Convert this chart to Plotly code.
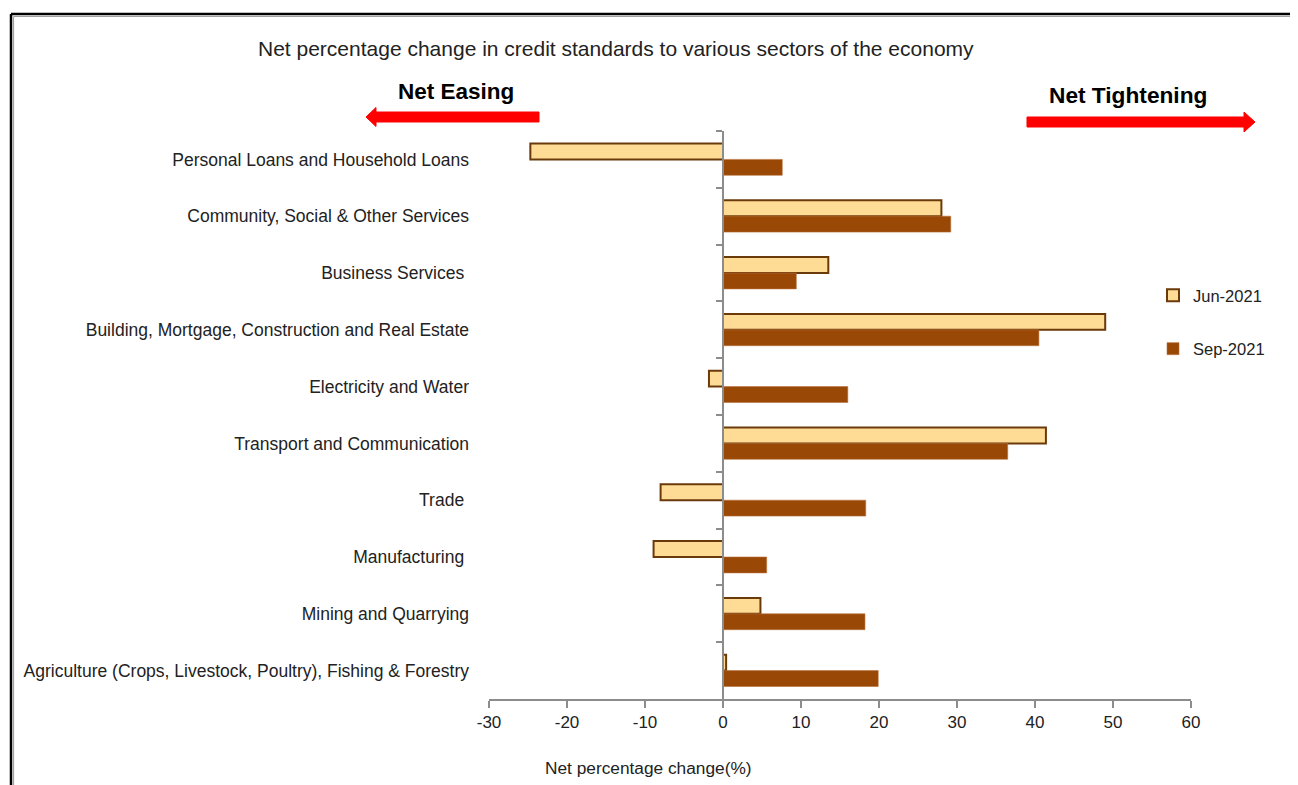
import plotly.graph_objects as go

categories = [
    "Personal Loans and Household Loans",
    "Community, Social & Other Services",
    "Business Services ",
    "Building, Mortgage, Construction and Real Estate",
    "Electricity and Water",
    "Transport and Communication",
    "Trade ",
    "Manufacturing ",
    "Mining and Quarrying",
    "Agriculture (Crops, Livestock, Poultry), Fishing & Forestry",
]
jun_2021 = [-24.7, 28.0, 13.5, 49.0, -1.8, 41.4, -8.0, -8.9, 4.8, 0.4]
sep_2021 = [7.6, 29.2, 9.4, 40.5, 16.0, 36.5, 18.3, 5.6, 18.2, 19.9]
x_ticks = [-30, -20, -10, 0, 10, 20, 30, 40, 50, 60]

OFF = 8  # page body margin
W, H = 1298 - OFF, 785 - OFF
L, R, T, B = 489, 1191, 131, 699
FONT = "Liberation Sans, Arial, sans-serif"


def px(x):
    return (x - L) / (R - L)


def py(y):
    return (B - y) / (B - T)


fig = go.Figure()
fig.add_trace(go.Bar(
    y=categories, x=jun_2021, orientation="h", name="Jun-2021",
    marker=dict(color="#FFDC96", line=dict(color="#6B3A0B", width=2)),
    legendgroup="a",
))
fig.add_trace(go.Bar(
    y=categories, x=sep_2021, orientation="h", name="Sep-2021",
    marker=dict(color="#994806", line=dict(color="#B8703A", width=0.6)),
    legendgroup="b",
))
# helper trace for the tick axis at zero
fig.add_trace(go.Scatter(
    x=[0] * len(categories), y=list(range(len(categories))), yaxis="y2",
    mode="markers", marker=dict(opacity=0), showlegend=False, hoverinfo="skip",
))

fig.update_layout(
    width=W, height=H,
    margin=dict(l=L - OFF, r=1298 - R, t=T - OFF, b=785 - B),
    paper_bgcolor="white", plot_bgcolor="white",
    barmode="group", bargap=0.44, bargroupgap=0,
    font=dict(family=FONT, color="#222222", size=17.5),
    xaxis=dict(
        range=[-30, 60], tickvals=x_ticks, ticktext=[str(v) for v in x_ticks],
        showgrid=False, zeroline=False, showline=True, linecolor="#8C8C8C",
        linewidth=2, ticks="outside", ticklen=7, tickwidth=2, tickcolor="#8C8C8C",
        tickfont=dict(size=17, color="#222222"),
    ),
    yaxis=dict(
        type="category", categoryarray=categories, autorange="reversed",
        showgrid=False, zeroline=False, showline=False, ticks="",
        ticklabelstandoff=19, tickfont=dict(size=17.5, color="#222222"),
    ),
    yaxis2=dict(
        overlaying="y", anchor="free", position=px(723),
        range=[len(categories) - 0.5, -0.5],
        tickvals=[i - 0.5 for i in range(len(categories))],
        showticklabels=False, showgrid=False, zeroline=False,
        showline=True, linecolor="#8C8C8C", linewidth=2,
        ticks="outside", ticklen=6, tickwidth=2, tickcolor="#8C8C8C",
    ),
    legend=dict(
        x=px(1153), y=py(278), xanchor="left", yanchor="top",
        traceorder="grouped", tracegroupgap=29,
        font=dict(size=16.5, color="#222222"), bgcolor="rgba(0,0,0,0)",
        itemwidth=30,
    ),
    showlegend=True,
)

# frame
fig.add_shape(type="line", xref="paper", yref="paper",
              x0=px(11), x1=px(1310), y0=py(14), y1=py(14),
              line=dict(color="black", width=2.5))
fig.add_shape(type="line", xref="paper", yref="paper",
              x0=px(11), x1=px(11), y0=py(14), y1=py(800),
              line=dict(color="black", width=2.5))
fig.add_shape(type="line", xref="paper", yref="paper",
              x0=px(13.5), x1=px(1310), y0=py(16.5), y1=py(16.5),
              line=dict(color="#A0A0A0", width=1.2))
fig.add_shape(type="line", xref="paper", yref="paper",
              x0=px(13.5), x1=px(13.5), y0=py(16.5), y1=py(800),
              line=dict(color="#A0A0A0", width=1.2))


def path(points):
    s = "M " + " L ".join(f"{px(x):.5f},{py(y):.5f}" for x, y in points) + " Z"
    return s


# Net easing arrow (pointing left)
fig.add_shape(type="path", xref="paper", yref="paper",
              path=path([(539, 112), (539, 122), (376, 122), (376, 126.5),
                         (366, 117), (376, 107.5), (376, 112)]),
              fillcolor="#FF0000", line=dict(color="#FF0000", width=1))
# Net tightening arrow (pointing right)
fig.add_shape(type="path", xref="paper", yref="paper",
              path=path([(1027, 117), (1027, 127), (1244, 127), (1244, 132),
                         (1255, 122), (1244, 112), (1244, 117)]),
              fillcolor="#FF0000", line=dict(color="#FF0000", width=1))

fig.add_annotation(text="Net percentage change in credit standards to various sectors of the economy",
                   xref="paper", yref="paper", x=px(616), y=py(48),
                   xanchor="center", yanchor="middle", showarrow=False,
                   font=dict(size=21, color="#222222"))
fig.add_annotation(text="<b>Net Easing</b>", xref="paper", yref="paper",
                   x=px(456), y=py(91), xanchor="center", yanchor="middle",
                   showarrow=False, font=dict(size=22.5, color="black"))
fig.add_annotation(text="<b>Net Tightening</b>", xref="paper", yref="paper",
                   x=px(1128), y=py(95), xanchor="center", yanchor="middle",
                   showarrow=False, font=dict(size=22.7, color="black"))
fig.add_annotation(text="Net percentage change(%)", xref="paper", yref="paper",
                   x=px(648), y=py(768), xanchor="center", yanchor="middle",
                   showarrow=False, font=dict(size=17.3, color="#222222"))

fig.write_html("out.html")
